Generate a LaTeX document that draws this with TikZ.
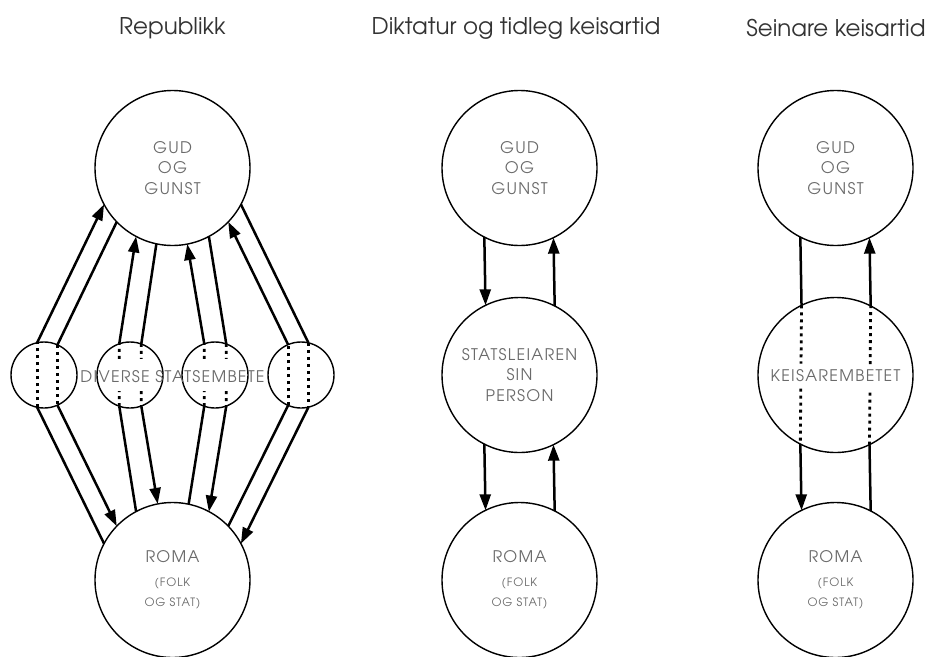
\documentclass[tikz,border=0pt]{standalone}
\usepackage{fontspec}
\setmainfont{TeX Gyre Adventor}
\newfontfamily\circfont[LetterSpace=8]{TeX Gyre Adventor}
\usetikzlibrary{arrows.meta,calc}
\definecolor{txtgray}{HTML}{6A6A6A}
\definecolor{ttlgray}{HTML}{333333}
\newcommand{\smalltxt}{\fontsize{11.5}{14.5}\selectfont}
\begin{document}
\begin{tikzpicture}[x=1pt,y=-1pt,
  big/.style={circle, draw, line width=1.4pt, minimum size=155pt, inner sep=0pt, outer sep=0pt, text=txtgray, font=\circfont\fontsize{16}{20.5}\selectfont, align=center},
  small/.style={circle, draw, line width=1.4pt, minimum size=66pt, inner sep=0pt, outer sep=0pt},
  lbl/.style={text=txtgray, font=\circfont\fontsize{16}{20.5}\selectfont, align=center, inner sep=0pt},
  ttl/.style={font=\fontsize{23}{26}\selectfont, text=ttlgray},
  conn/.style={line width=2.5pt},
  arr/.style={conn, -{Triangle[length=16pt,width=11pt]}},
  dots/.style={line width=2.8pt, dash pattern=on 3pt off 4pt},
]
\useasboundingbox (0,0) rectangle (931,656);

% titles
\node[ttl] (h1) at (172.5,28) {Republikk};
\node[ttl] (h2) at (516,28) {Diktatur og tidleg keisartid};
\node[ttl] (h3) at (836,28) {Seinare keisartid};

% ---------------- Republikk ----------------
\node[big] (t1) at (172.5,168) {GUD\\OG\\GUNST};
\node[big] (b1) at (172.5,580) {ROMA\\[3pt]\smalltxt(FOLK\\\smalltxt OG STAT)};
\node[small] (s1) at (44,375) {};
\node[small] (s2) at (130,375) {};
\node[small] (s3) at (215,375) {};
\node[small] (s4) at (301,375) {};
\node[lbl] (dv) at (172.5,377) {DIVERSE STATSEMBETE};

% pair 1
\draw[conn] (b1.152) -- (s1.-102.2);
\draw[dots] (s1.-102.2) -- (s1.102.2);
\draw[arr] (s1.102.2) -- (t1.208);
\draw[conn] (t1.224) -- (s1.66.8);
\draw[dots] (s1.66.8) -- (s1.-66.8);
\draw[arr] (s1.-66.8) -- (b1.136);
% pair 2
\draw[conn] (b1.118) -- (s2.-109.5);
\draw[dots] (s2.-109.5) -- ($(s2.-109.5)!0.24!(s2.109.5)$);
\draw[dots] ($(s2.-109.5)!0.76!(s2.109.5)$) -- (s2.109.5);
\draw[arr] (s2.109.5) -- (t1.242);
\draw[conn] (t1.258.6) -- (s2.70.5);
\draw[dots] (s2.70.5) -- ($(s2.70.5)!0.24!(s2.-70.5)$);
\draw[dots] ($(s2.70.5)!0.76!(s2.-70.5)$) -- (s2.-70.5);
\draw[arr] (s2.-70.5) -- (b1.101.4);
% pair 3
\draw[conn] (b1.78.6) -- (s3.-109.5);
\draw[dots] (s3.-109.5) -- ($(s3.-109.5)!0.24!(s3.109.5)$);
\draw[dots] ($(s3.-109.5)!0.76!(s3.109.5)$) -- (s3.109.5);
\draw[arr] (s3.109.5) -- (t1.281.4);
\draw[conn] (t1.298) -- (s3.70.5);
\draw[dots] (s3.70.5) -- ($(s3.70.5)!0.24!(s3.-70.5)$);
\draw[dots] ($(s3.70.5)!0.76!(s3.-70.5)$) -- (s3.-70.5);
\draw[arr] (s3.-70.5) -- (b1.62);
% pair 4
\draw[conn] (b1.44) -- (s4.-113.2);
\draw[dots] (s4.-113.2) -- (s4.113.2);
\draw[arr] (s4.113.2) -- (t1.316);
\draw[conn] (t1.332) -- (s4.77.8);
\draw[dots] (s4.77.8) -- (s4.-77.8);
\draw[arr] (s4.-77.8) -- (b1.28);

% ---------------- Diktatur ----------------
\node[big] (t2) at (519.5,168) {GUD\\OG\\GUNST};
\node[big] (m2) at (519.5,375) {STATSLEIAREN\\SIN\\PERSON};
\node[big] (b2) at (519.5,580) {ROMA\\[3pt]\smalltxt(FOLK\\\smalltxt OG STAT)};
\draw[arr] (t2.243.2) -- (m2.116.8);
\draw[arr] (m2.63.2) -- (t2.296.8);
\draw[arr] (m2.243.2) -- (b2.116.8);
\draw[arr] (b2.63.2) -- (m2.296.8);

% ---------------- Seinare ----------------
\node[big] (t3) at (835.5,168) {GUD\\OG\\GUNST};
\node[big] (m3) at (835.5,375) {};
\node[big] (b3) at (835.5,580) {ROMA\\[3pt]\smalltxt(FOLK\\\smalltxt OG STAT)};
\node[lbl] (k3) at (835.5,376) {KEISAREMBETET};
\draw[conn] (t3.243.2) -- (m3.116.8);
\draw[dots] (m3.116.8) -- ($(m3.116.8)!0.42!(m3.243.2)$);
\draw[dots] ($(m3.116.8)!0.60!(m3.243.2)$) -- (m3.243.2);
\draw[arr] (m3.243.2) -- (b3.116.8);
\draw[conn] (b3.63.2) -- (m3.296.8);
\draw[dots] (m3.296.8) -- ($(m3.296.8)!0.40!(m3.63.2)$);
\draw[dots] ($(m3.296.8)!0.58!(m3.63.2)$) -- (m3.63.2);
\draw[arr] (m3.63.2) -- (t3.296.8);
\end{tikzpicture}
\end{document}
